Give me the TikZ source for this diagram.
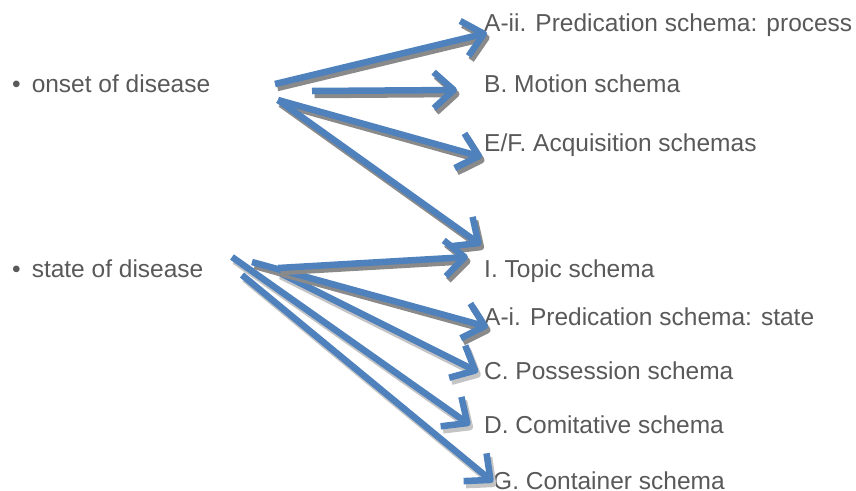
\documentclass[tikz,border=0pt]{standalone}
\usepackage{fontspec}
\setmainfont{Liberation Sans}
\usetikzlibrary{arrows.meta}
\definecolor{schemablue}{HTML}{4F81BD}
\definecolor{textgrey}{HTML}{595959}
\definecolor{shadowdark}{HTML}{8A8A8A}
\definecolor{shadowlight}{HTML}{C4C4C4}
\tikzset{
  every node/.style={inner sep=0pt,anchor=base west,text=textgrey,font=\fontsize{24.5}{29}\selectfont},
  bluearrow/.style={line width=6.5pt,-{Straight Barb[length=20pt,width=36pt,line join=round]}},
  arrowshadow/.style={bluearrow,draw=#1,transform canvas={shift={(2.5pt,-4pt)}}}
}
\newcommand{\schemaarrow}[3][shadowdark]{%
  \draw[arrowshadow=#1] #2 -- #3;
  \draw[bluearrow,draw=schemablue] #2 -- #3;}
\begin{document}
\begin{tikzpicture}[x=1pt,y=-1pt]
  \useasboundingbox (0,0) rectangle (856,490);
  \node (onset) at (12,92) {\textbullet\hspace{11pt}onset of disease};
  \node (state) at (12,277) {\textbullet\hspace{11pt}state of disease};
  \node (aii) at (484,31) {A-ii. Predication schema: process};
  \node (b) at (484,92) {B. Motion schema};
  \node (ef) at (484,151) {E/F. Acquisition schemas};
  \node (i) at (484,277) {I. Topic schema};
  \node (ai) at (484,325) {A-i. Predication schema: state};
  \node (c) at (484,379) {C. Possession schema};
  \node (d) at (484,433) {D. Comitative schema};
  \node (g) at (493,489) {G. Container schema};
  \coordinate (onset1) at (275,84);
  \coordinate (onset2) at (312,91);
  \coordinate (onset3) at (278,100);
  \coordinate (state1) at (278,268);
  \coordinate (state2) at (252,262);
  \coordinate (state3) at (278,272);
  \coordinate (state4) at (232,257);
  \coordinate (state5) at (242,275);
  \schemaarrow{(onset1)}{([shift={(3,2)}]aii.base west)}
  \schemaarrow{(onset2)}{([shift={(-27,-2)}]b.base west)}
  \schemaarrow{(onset3)}{([shift={(-2,6)}]ef.base west)}
  \schemaarrow{(onset3)}{([shift={(-3,-32)}]i.base west)}
  \schemaarrow[shadowlight]{(state4)}{([shift={(-14,-8)}]d.base west)}
  \schemaarrow[shadowlight]{(state5)}{([shift={(0,-7)}]g.base west)}
  \schemaarrow[shadowlight]{(state3)}{([shift={(-6,-7)}]c.base west)}
  \schemaarrow{(state2)}{([shift={(4,2)}]ai.base west)}
  \schemaarrow{(state1)}{([shift={(-16,-20)}]i.base west)}
\end{tikzpicture}
\end{document}
